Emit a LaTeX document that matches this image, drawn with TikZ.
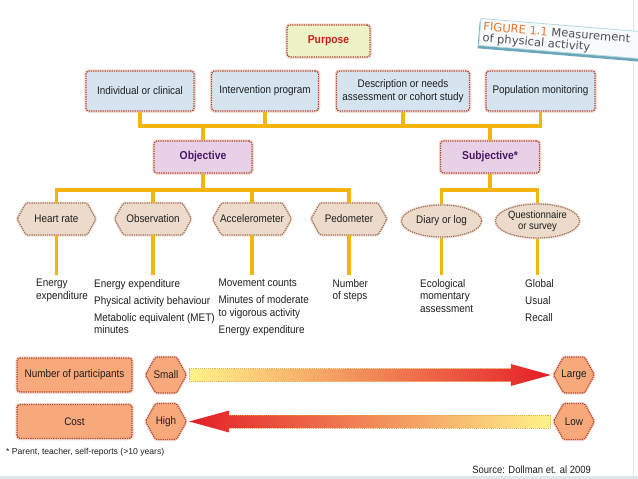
\documentclass[tikz,border=0pt]{standalone}
\usepackage{fontspec}
\setmainfont{Liberation Sans}[FakeStretch=0.9]
\newfontfamily\footfont{Liberation Sans}
\newfontfamily\bannerfont{DejaVu Sans}
\usetikzlibrary{shapes.geometric,calc}
\definecolor{connc}{HTML}{F5B50F}
\definecolor{boxborder}{HTML}{B0452F}
\definecolor{halo}{HTML}{F4DDD5}
\definecolor{textdark}{HTML}{1E1E1E}
\definecolor{purfill}{HTML}{EDF3C6}
\definecolor{purtext}{HTML}{C8211E}
\definecolor{bluefill}{HTML}{D5E4EF}
\definecolor{objfill}{HTML}{E6D1E6}
\definecolor{objtext}{HTML}{4A1766}
\definecolor{tanfill}{HTML}{ECDBCB}
\definecolor{tanborder}{HTML}{9E6B55}
\definecolor{tanhalo}{HTML}{F1E6DC}
\definecolor{salfill}{HTML}{F8A97C}
\definecolor{arrowyellow}{HTML}{FFF38A}
\definecolor{arroworange}{HTML}{F8A03A}
\definecolor{arrowred}{HTML}{E41E26}
\definecolor{arrowdot}{HTML}{E2A43A}
\definecolor{bannerfill}{HTML}{F7FBFC}
\definecolor{bannerline}{HTML}{B8D8E0}
\definecolor{bannershadow}{HTML}{6AA7BA}
\definecolor{bannertext}{HTML}{505050}
\definecolor{figorange}{HTML}{E67A2E}
\definecolor{edgeblue}{HTML}{DCE7EC}
\newcommand\hexnode[8]{% #1 style, #2 name, #3 x, #4 y, #5 half width, #6 half height, #7 point depth, #8 text
  \draw[#1] (#3-#5,#4) -- (#3-#5+#7,#4-#6) -- (#3+#5-#7,#4-#6) -- (#3+#5,#4)
    -- (#3+#5-#7,#4+#6) -- (#3-#5+#7,#4+#6) -- cycle;
  \node[hextext, minimum width=2*#5, minimum height=2*#6] (#2) at (#3,#4) {#8};
}
\tikzset{
  box/.style={draw=boxborder, densely dotted, line width=1.3pt, rounded corners=3pt,
    align=center, inner sep=2pt, text=textdark, font=\fontsize{11}{12.5}\selectfont,
    preaction={draw=halo, solid, line width=3.5pt}},
  boldtxt/.style={font=\bfseries\fontsize{11.5}{13}\selectfont},
  conn/.style={draw=connc, line width=3.5pt},
  tanhex/.style={fill=tanfill, draw=tanborder, densely dotted, line width=1.2pt, rounded corners=1.5pt,
    preaction={draw=tanhalo, solid, line width=3pt}},
  salhex/.style={fill=salfill, draw=boxborder, densely dotted, line width=1.2pt, rounded corners=1.5pt,
    preaction={draw=halo, solid, line width=3pt}},
  hextext/.style={inner sep=0pt, align=center, text=textdark, font=\fontsize{11}{12.5}\selectfont},
  ell/.style={ellipse, fill=tanfill, draw=tanborder, densely dotted, line width=1.2pt, inner sep=0pt,
    align=center, text=textdark, font=\fontsize{11}{12.5}\selectfont,
    preaction={draw=tanhalo, solid, line width=3pt}},
  listtxt/.style={anchor=north west, align=left, inner sep=0pt, text=textdark,
    font=\fontsize{11}{12.5}\selectfont},
}
\begin{document}
\begin{tikzpicture}[x=1pt,y=-1pt]
\useasboundingbox (0,0) rectangle (638,479);
\clip (0,0) rectangle (638,479);
\fill[white] (0,0) rectangle (638,479);
\draw[line width=1pt, draw=edgeblue] (633.5,0) -- (633.5,479);
\fill[edgeblue] (0,475.5) rectangle (638,479);

% banner
\begin{scope}[shift={(481,18.5)}, rotate=-4.7, transform shape]
  \fill[bannershadow] (-1,3) rectangle (200,30);
  \fill[bannerfill, draw=bannerline, line width=0.8pt] (0,0) rectangle (200,27);
  \node[anchor=north west, inner sep=0pt, align=left, text=bannertext,
        font=\bannerfont\fontsize{11.5}{11.5}\selectfont] (fig) at (3,3)
        {\textcolor{figorange}{FIGURE 1.1} Measurement\\of physical activity};
\end{scope}

% top levels
\node[box, fill=purfill, text=purtext, boldtxt, minimum width=83pt, minimum height=32pt] (purpose) at (328.5,41) {Purpose};
\node[box, fill=bluefill, minimum width=108pt, minimum height=40pt] (ind) at (140,91) {Individual or clinical};
\node[box, fill=bluefill, minimum width=107pt, minimum height=40pt] (int) at (265,91) {Intervention program};
\node[box, fill=bluefill, minimum width=133pt, minimum height=40pt] (des) at (403,91) {Description or needs\\assessment or cohort study};
\node[box, fill=bluefill, minimum width=109pt, minimum height=40pt] (pop) at (540.5,91) {Population monitoring};
\node[box, fill=objfill, text=objtext, boldtxt, minimum width=98pt, minimum height=32pt] (obj) at (203,157) {Objective};
\node[box, fill=objfill, text=objtext, boldtxt, minimum width=99pt, minimum height=32pt] (subj) at (490,157) {Subjective*};

\coordinate (bus1) at (0,126);
\coordinate (bus2) at (0,190);
\coordinate (stem) at (0,275);

% level 3
\hexnode{tanhex}{hr}{56.5}{219}{39.5}{16}{9}{Heart rate}
\hexnode{tanhex}{obs}{153}{219}{38.5}{16}{9}{Observation}
\hexnode{tanhex}{acc}{252}{219}{39.5}{16}{9}{Accelerometer}
\hexnode{tanhex}{ped}{349}{219}{38}{16}{9}{Pedometer}
\node[ell, minimum width=80pt, minimum height=32pt] (dia) at (441.5,221) {Diary or log};
\node[ell, minimum width=84pt, minimum height=34pt, font=\fontsize{10.5}{11}\selectfont] (que) at (537.5,221) {Questionnaire\\or survey};

% connectors
\draw[conn] (ind.south) -- (ind.south |- bus1) -- (pop.south |- bus1) -- (pop.south);
\draw[conn] (int.south) -- (int.south |- bus1);
\draw[conn] (des.south) -- (des.south |- bus1);
\draw[conn] (obj.north) -- (obj.north |- bus1);
\draw[conn] (subj.north) -- (subj.north |- bus1);
\draw[conn] (obj.south) -- (obj.south |- bus2);
\draw[conn] (subj.south) -- (subj.south |- bus2);
\draw[conn] (hr.north) -- (hr.north |- bus2) -- (ped.north |- bus2) -- (ped.north);
\draw[conn] (obs.north) -- (obs.north |- bus2);
\draw[conn] (acc.north) -- (acc.north |- bus2);
\draw[conn] (dia.north) -- (dia.north |- bus2) -- (que.north |- bus2) -- (que.north);
\foreach \n in {hr,obs,acc,ped,dia,que} { \draw[conn] (\n.south) -- (\n.south |- stem); }

% lists
\node[listtxt] (hrtxt) at (36,279) {Energy\\expenditure};
\node[listtxt] (obstxt) at (94,279) {Energy expenditure\\[4.5pt]Physical activity behaviour\\[4.5pt]Metabolic equivalent (MET)\\minutes};
\node[listtxt] (acctxt) at (218.5,279) {Movement counts\\[4.5pt]Minutes of moderate\\to vigorous activity\\[4.5pt]Energy expenditure};
\node[listtxt] (pedtxt) at (332.5,279) {Number\\of steps};
\node[listtxt] (diatxt) at (420,279) {Ecological\\momentary\\assessment};
\node[listtxt] (quetxt) at (525,279) {Global\\[4.5pt]Usual\\[4.5pt]Recall};

% bottom scales
\node[box, fill=salfill, minimum width=115pt, minimum height=34pt] (np) at (74.5,375) {Number of participants};
\node[box, fill=salfill, minimum width=115pt, minimum height=34pt] (cost) at (74.5,421.5) {Cost};
\hexnode{salhex}{small}{166}{375}{20.5}{18}{10}{Small}
\hexnode{salhex}{large}{574}{375}{20.5}{18}{10}{Large}
\hexnode{salhex}{high}{166}{421.5}{20.5}{18}{10}{High}
\hexnode{salhex}{low}{574}{421.5}{20.5}{18}{10}{Low}

% arrow 1: small -> large
\coordinate (a1s) at ($(small.east)+(2.5,0)$);
\coordinate (a1e) at ($(large.west)+(-2.5,0)$);
\shade[left color=arrowyellow, middle color=arroworange, right color=arrowred]
  ($(a1s)+(0,-6.5)$) -- ($(a1e)+(-40,-6.5)$) -- ($(a1e)+(-40,-11)$) -- (a1e)
  -- ($(a1e)+(-40,11)$) -- ($(a1e)+(-40,6.5)$) -- ($(a1s)+(0,6.5)$) -- cycle;
\draw[draw=arrowdot, densely dotted, line width=0.9pt, opacity=0.8]
  ($(a1e)+(-40,-6.5)$) -- ($(a1s)+(0,-6.5)$) -- ($(a1s)+(0,6.5)$) -- ($(a1e)+(-40,6.5)$);

% arrow 2: low -> high
\coordinate (a2s) at ($(low.west)+(-2.5,0)$);
\coordinate (a2e) at ($(high.east)+(2.5,0)$);
\shade[left color=arrowred, middle color=arroworange, right color=arrowyellow]
  ($(a2s)+(0,-6.5)$) -- ($(a2e)+(40,-6.5)$) -- ($(a2e)+(40,-11)$) -- (a2e)
  -- ($(a2e)+(40,11)$) -- ($(a2e)+(40,6.5)$) -- ($(a2s)+(0,6.5)$) -- cycle;
\draw[draw=arrowdot, densely dotted, line width=0.9pt, opacity=0.8]
  ($(a2e)+(40,-6.5)$) -- ($(a2s)+(0,-6.5)$) -- ($(a2s)+(0,6.5)$) -- ($(a2e)+(40,6.5)$);

% footnote and source
\node[anchor=base west, inner sep=0pt, text=textdark, font=\footfont\fontsize{8.6}{9}\selectfont] (fn) at (6,454) {* Parent, teacher, self-reports (>10 years)};
\node[anchor=base east, inner sep=0pt, text=textdark, font=\fontsize{10.5}{12}\selectfont] (src) at (591,473.5) {Source: Dollman et. al 2009};
\end{tikzpicture}
\end{document}
